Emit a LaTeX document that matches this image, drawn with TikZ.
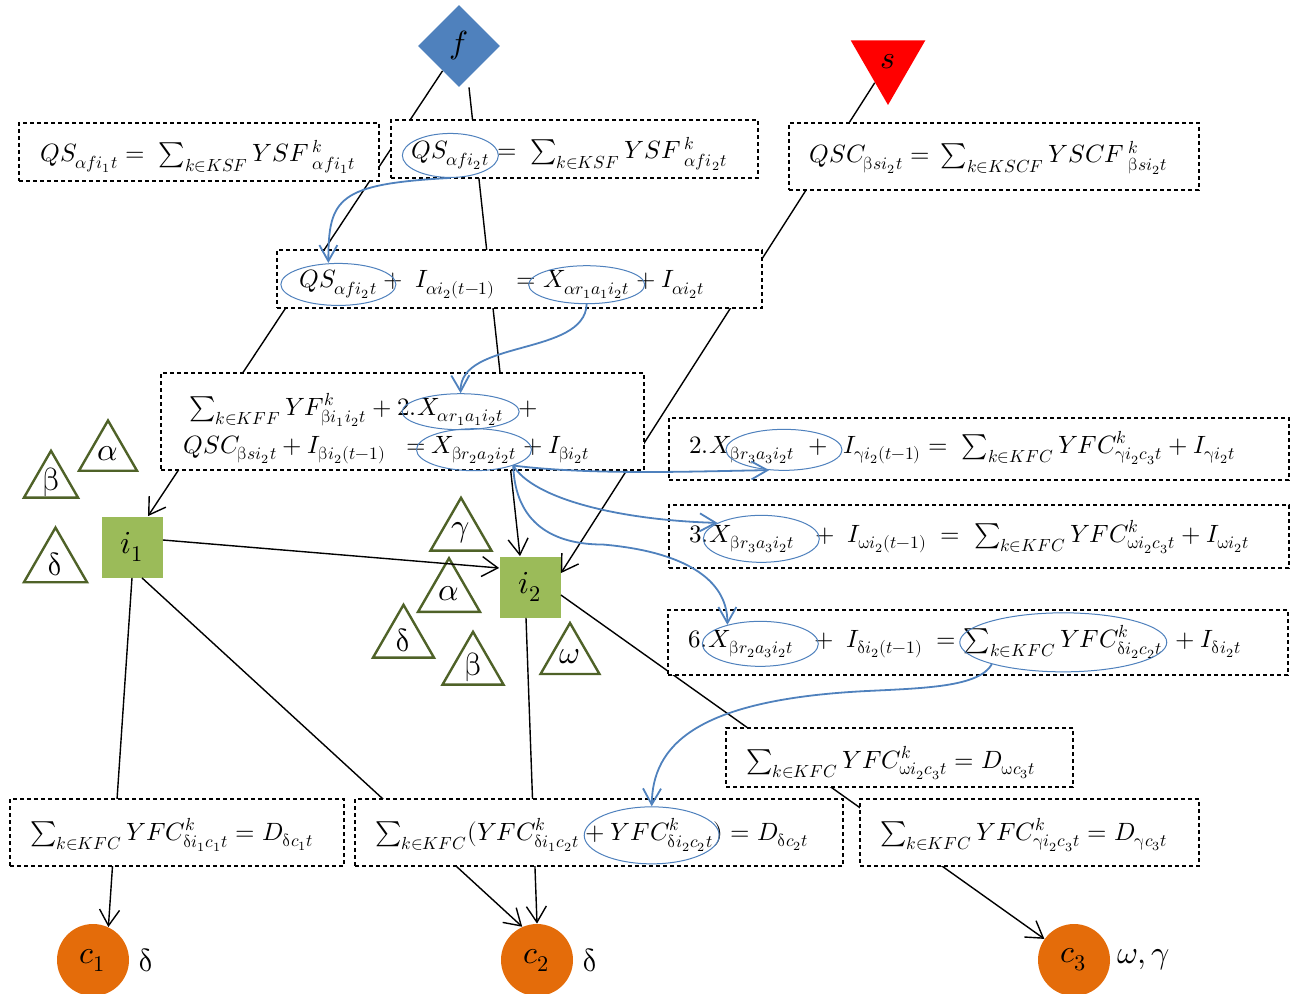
\documentclass[tikz,border=0pt]{standalone}
\usepackage{unicode-math}
\setmathfont{Latin Modern Math}
\usetikzlibrary{arrows.meta,shapes.geometric,positioning}
\definecolor{fblue}{HTML}{4F81BD}
\definecolor{igreen}{HTML}{9BBB59}
\definecolor{corange}{HTML}{E46C0A}
\definecolor{tgreen}{HTML}{4F6228}
\begin{document}
\begin{tikzpicture}[x=0.5pt, y=-0.5pt,
		font=\fontsize{12.5}{15}\selectfont,
		eqbox/.style={draw, dash pattern=on 2pt off 1.5pt, line width=0.6pt, fill=white, inner sep=0pt},
		part/.style={inner sep=0pt, anchor=base west},
		oval/.style={ellipse, draw=fblue, line width=0.5pt, inner sep=0pt},
		big/.style={font=\fontsize{16}{19}\selectfont},
		tri/.style={regular polygon, regular polygon sides=3, draw=tgreen, line width=1.2pt, fill=white, inner sep=0pt},
		site/.style={big, minimum size=30.5pt, fill=igreen, inner sep=0pt},
		cust/.style={big, circle, minimum size=36pt, fill=corange, inner sep=0pt},
		flow/.style={line width=0.7pt, -{Straight Barb[length=8pt, width=10pt]}},
		link/.style={fblue, line width=0.9pt, -{Straight Barb[length=8pt, width=9pt]}}]
			\useasboundingbox (0,0) rectangle (1299,994);
			\node [big, diamond, fill=fblue, minimum width=41pt, minimum height=41pt, inner sep=0pt] (f) at (459,46) {$f$};
			\node [big, regular polygon, regular polygon sides=3, shape border rotate=180, fill=red, minimum size=43pt, inner sep=0pt] (s) at (888,62) {$s$};
			\node [site] (i1) at (132,547) {$i_1$};
			\node [site] (i2) at (530,587) {$i_2$};
			\node [cust] (c1) at (93,960) {$c_1$};
			\node [cust] (c2) at (537,960) {$c_2$};
			\node [cust] (c3) at (1074,960) {$c_3$};
			\node [big, right=1pt of c1] (l1) {$\symup{\delta}$};
			\node [big, right=1pt of c2] (l2) {$\symup{\delta}$};
			\node [big, right=0pt of c3] (l3) {$\omega, \gamma$};
			\foreach \n/\x/\y/\d/\g in {al/108/454/33.5/\alpha, bl/51/482/31.2/\symup{\beta}, dl/55.5/564/36.4/\symup{\delta}, gm/461/533/35.2/\gamma, am/449/594/35.8/\alpha, dm/403.5/640/35.2/\symup{\delta}, bm/473/667/35.2/\symup{\beta}, om/570/657/34/\omega}
				\node [tri, minimum size=\d pt, label={[big]center:$\g$}] (t-\n) at (\x,\y) {};
			\draw [flow] (f) -- ([xshift=8pt]i1.north);
			\draw [flow] ([xshift=5pt]f.south) -- ([xshift=-5pt]i2.north);
			\draw [flow] (s) -- ([yshift=-8.5pt]i2.north east);
			\draw [flow] ([yshift=3.5pt]i1.east) -- ([yshift=9.5pt]i2.west);
			\draw [flow] (i1.south) -- (c1.65);
			\draw [flow] ([xshift=5pt]i1.south) -- (c2.114);
			\draw [flow] ([xshift=-2pt]i2.south) -- (c2.north);
			\draw [flow] ([yshift=-4pt]i2.east) -- (c3);
			\node [eqbox, minimum width=180pt, minimum height=29pt] (boxA) at (199,152) {};
			\node [eqbox, minimum width=183.5pt, minimum height=29pt] (boxB) at (574.5,149) {};
			\node [eqbox, minimum width=205pt, minimum height=33.5pt] (boxC) at (994,156.5) {};
			\node [eqbox, minimum width=242.5pt, minimum height=29pt] (boxD) at (519.5,279) {};
			\node [eqbox, minimum width=241.5pt, minimum height=48.5pt] (boxE) at (402.5,421.5) {};
			\node [eqbox, minimum width=310pt, minimum height=31pt] (boxF) at (979,449) {};
			\node [eqbox, minimum width=310pt, minimum height=31.5pt] (boxG) at (979,536.5) {};
			\node [eqbox, minimum width=310pt, minimum height=32.5pt] (boxH) at (978,642.5) {};
			\node [eqbox, minimum width=173.5pt, minimum height=29.5pt] (boxI) at (899.5,757.5) {};
			\node [eqbox, minimum width=167pt, minimum height=33.5pt] (boxJ) at (177,832.5) {};
			\node [eqbox, minimum width=244pt, minimum height=33.5pt] (boxK) at (599,832.5) {};
			\node [eqbox, minimum width=169.5pt, minimum height=33.5pt] (boxL) at (1029.5,832.5) {};
			\node [part] (qa) at (40,162) {$QS_{\alpha f i_1 t} = \; \sum_{k\in KSF} YSF\,{}^{k}_{\alpha f i_1 t}$};
			\node [part] (qb1) at (411,159) {$QS_{\alpha f i_2 t}$};
			\node [part] (qb2) at (qb1.base east) {${}= \; \sum_{k\in KSF} YSF\,{}^{k}_{\alpha f i_2 t}$};
			\node [part] (qc) at (809,163) {$QSC_{\symup{\beta} s i_2 t} = \, \sum_{k\in KSCF} YSCF\,{}^{k}_{\symup{\beta} s i_2 t}$};
			\node [part] (qd1) at (299,288) {$QS_{\alpha f i_2 t}$};
			\node [part] (qd2) at (qd1.base east) {${}+\; I_{\alpha i_2(t-1)} \;\;={}$};
			\node [part] (qd3) at (qd2.base east) {$X_{\alpha r_1 a_1 i_2 t}$};
			\node [part] (qd4) at (qd3.base east) {${}+ I_{\alpha i_2 t}$};
			\node [part] (qe1) at (189,415) {$\sum_{k\in KFF} YF^{k}_{\symup{\beta} i_1 i_2 t} + 2.$};
			\node [part] (qe2) at (qe1.base east) {$X_{\alpha r_1 a_1 i_2 t}$};
			\node [part] (qe3) at (qe2.base east) {$\;\;+$};
			\node [part] (qe4) at (183,453) {$QSC_{\symup{\beta} s i_2 t} + I_{\symup{\beta} i_2(t-1)} \;\;=\,$};
			\node [part] (qe5) at (qe4.base east) {$X_{\symup{\beta} r_2 a_2 i_2 t}$};
			\node [part] (qe6) at (qe5.base east) {${}+ I_{\symup{\beta} i_2 t}$};
			\node [part] (qf1) at (689,453) {$2.$};
			\node [part] (qf2) at (qf1.base east) {$X_{\symup{\beta} r_3 a_3 i_2 t}\;\;+$};
			\node [part] (qf3) at (qf2.base east) {$\;\; I_{\symup{\gamma} i_2(t-1)} = \; \sum_{k\in KFC} YFC^{k}_{\symup{\gamma} i_2 c_3 t} + I_{\symup{\gamma} i_2 t}$};
			\node [part] (qg1) at (689,542) {$3.$};
			\node [part] (qg2) at (qg1.base east) {$X_{\symup{\beta} r_3 a_3 i_2 t}$};
			\node [part] (qg3) at (qg2.base east) {${}\;\;+\; I_{\symup{\omega} i_2(t-1)} \;=\; \sum_{k\in KFC} YFC^{k}_{\symup{\omega} i_2 c_3 t} + I_{\symup{\omega} i_2 t}$};
			\node [part] (qh1) at (688,647) {$6.$};
			\node [part] (qh2) at (qh1.base east) {$X_{\symup{\beta} r_2 a_3 i_2 t}$};
			\node [part] (qh3) at (qh2.base east) {${}\;\;+\; I_{\symup{\delta} i_2(t-1)} \;={}$};
			\node [part] (qh4) at (qh3.base east) {$\sum_{k\in KFC} YFC^{k}_{\symup{\delta} i_2 c_2 t}$};
			\node [part] (qh5) at (qh4.base east) {${}\;+ I_{\symup{\delta} i_2 t}$};
			\node [part] (qi) at (746,768) {$\sum_{k\in KFC} YFC^{k}_{\symup{\omega} i_2 c_3 t} = D_{\symup{\omega} c_3 t}$};
			\node [part] (qj) at (30,840) {$\sum_{k\in KFC} YFC^{k}_{\symup{\delta} i_1 c_1 t} = D_{\symup{\delta} c_1 t}$};
			\node [part] (qk1) at (375,840) {$\sum_{k\in KFC}(YFC^{k}_{\symup{\delta} i_1 c_2 t}$};
			\node [part] (qk2) at (qk1.base east) {${}+YFC^{k}_{\symup{\delta} i_2 c_2 t})$};
			\node [part] (qk3) at (qk2.base east) {${}= D_{\symup{\delta} c_2 t}$};
			\node [part] (ql) at (880,840) {$\sum_{k\in KFC} YFC^{k}_{\symup{\gamma} i_2 c_3 t} = D_{\symup{\gamma} c_3 t}$};
			\node [oval, minimum width=48pt, minimum height=22pt] (eB) at (qb1) {};
			\node [oval, minimum width=57.5pt, minimum height=21pt] (eD1) at (qd1) {};
			\node [oval, minimum width=58pt, minimum height=19pt] (eD2) at (qd3) {};
			\node [oval, minimum width=58.5pt, minimum height=18pt] (eE1) at (qe2) {};
			\node [oval, minimum width=57.5pt, minimum height=21pt] (eE2) at (qe5) {};
			\node [oval, minimum width=58pt, minimum height=20.5pt] (eF) at ([xshift=7.5pt]qf2.center) {};
			\node [oval, minimum width=58pt, minimum height=23.5pt] (eG) at ([xshift=4.5pt]qg2.center) {};
			\node [oval, minimum width=58pt, minimum height=22.5pt] (eH1) at ([xshift=4.5pt]qh2.center) {};
			\node [oval, minimum width=103.5pt, minimum height=29.5pt] (eH2) at (qh4) {};
			\node [oval, minimum width=67.5pt, minimum height=28.5pt] (eK) at (qk2) {};
			\draw [link] (eB.south) .. controls +(-112,6) and +(0,-65) .. ([xshift=-5pt]eD1.north);
			\draw [link] (eD2.south) .. controls +(-2,52) and +(-1,-54) .. (eE1.north);
			\draw [link] (eE2.-22) .. controls +(80,10) and +(-68,1) .. (eF.234);
			\draw [link] (eE2.-22) .. controls +(20,33) and +(-100,-3) .. (eG.160);
			\draw [link] (eE2.-22) .. controls +(2,58) and +(-50,0) .. ++(90,79) .. controls +(80,7) and +(0,-46) .. (eH1.150);
			\draw [link] (eH2.197) .. controls +(-13,23) and +(60,-3) .. ++(-128,27) .. controls +(-170,9) and +(1,-60) .. (eK.north);
		\end{tikzpicture}
\end{document}
